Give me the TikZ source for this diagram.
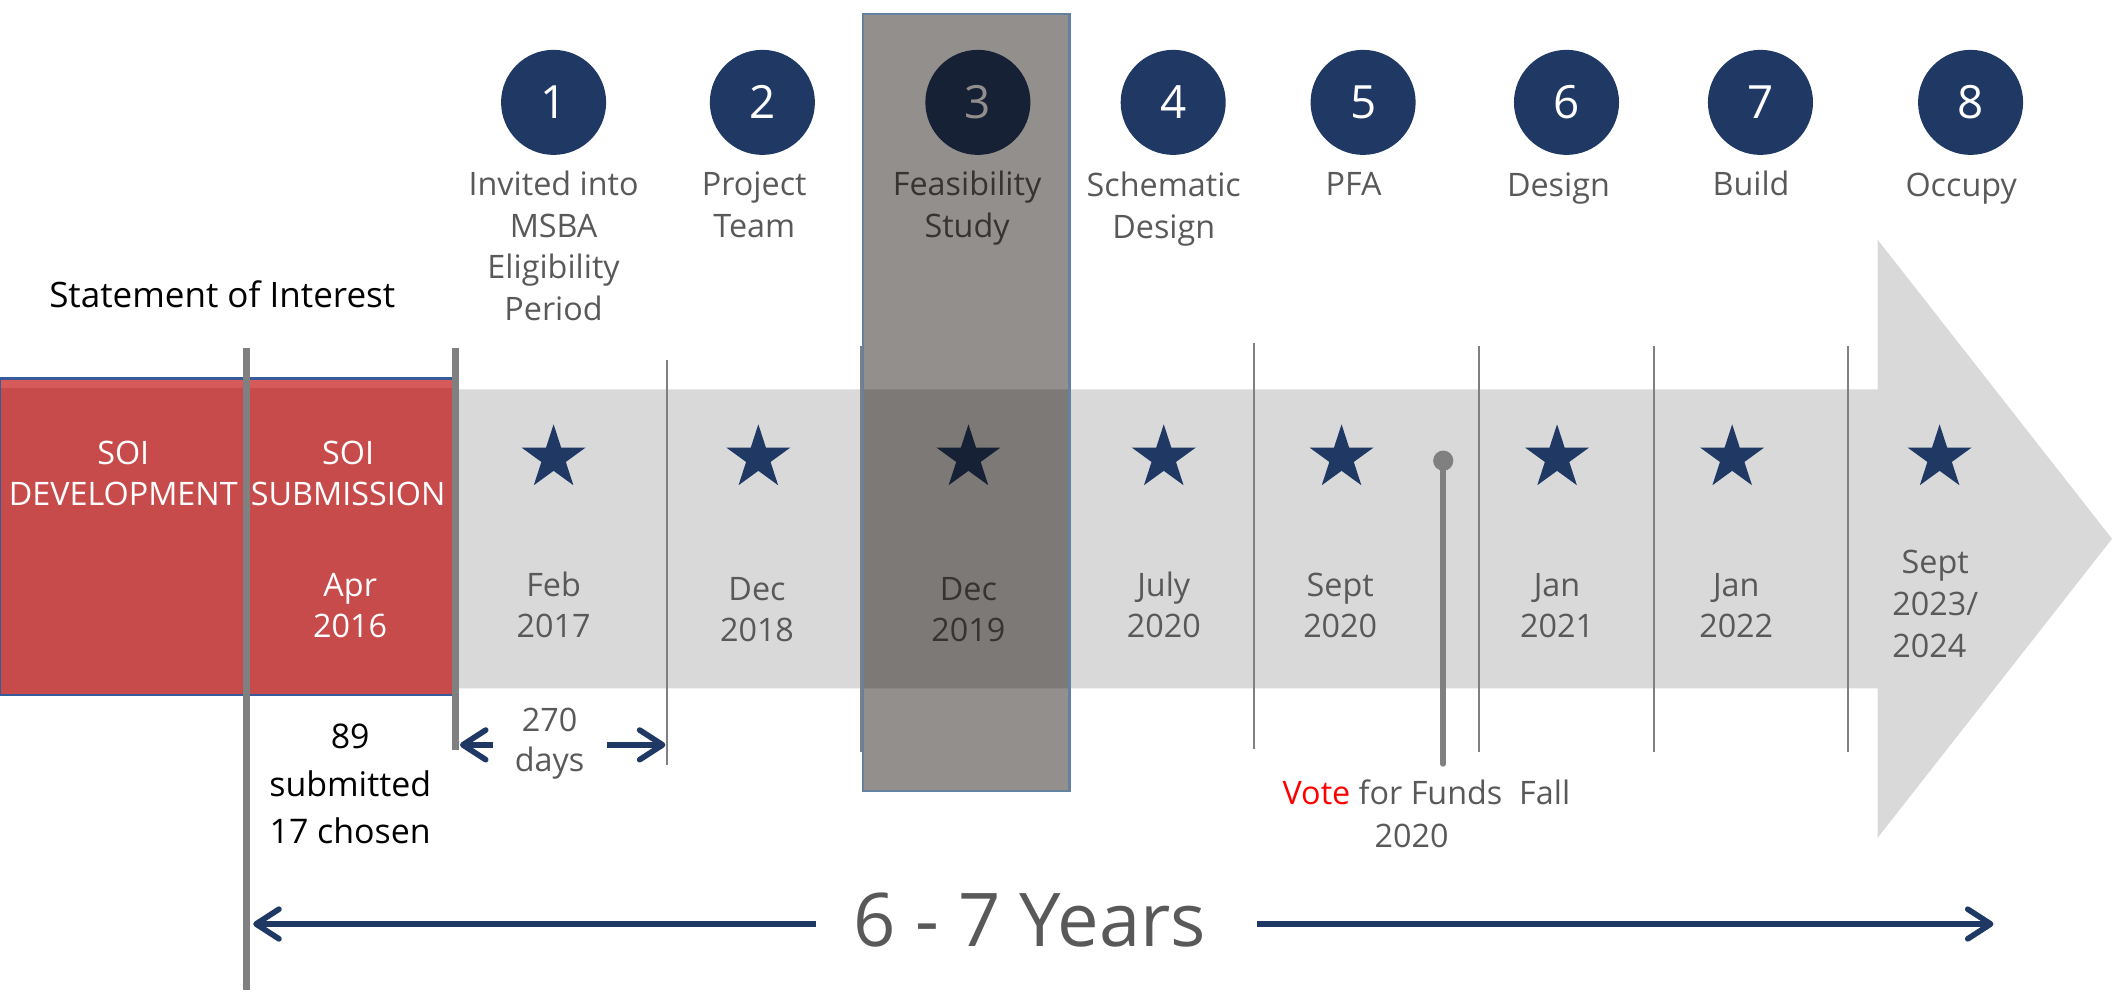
\documentclass[tikz,border=0pt]{standalone}
\usepackage{fontspec}
\setmainfont{Open Sans}
\usepackage{calc}
\usetikzlibrary{shapes.geometric,arrows.meta}
\definecolor{navy}{RGB}{31,56,100}
\definecolor{labgray}{RGB}{89,89,89}
\definecolor{soired}{RGB}{200,75,76}
\definecolor{soilight}{RGB}{214,90,90}
\definecolor{soiblue}{RGB}{55,90,155}
\definecolor{bandgray}{RGB}{217,217,217}
\definecolor{linegray}{RGB}{128,128,128}
\definecolor{hlfill}{RGB}{13,6,0}
\definecolor{hlborder}{RGB}{100,130,160}
\definecolor{votered}{RGB}{255,0,0}
\begin{document}
\begin{tikzpicture}[x=0.5pt,y=-0.5pt,
  stepcirc/.style={circle,fill=navy,text=white,minimum size=39pt,inner sep=0pt,font=\fontsize{17}{17}\selectfont},
  steplabel/.style={anchor=base,align=center,text=labgray,inner sep=0pt,font=\fontsize{12}{15.5}\selectfont},
  datelabel/.style={anchor=base,align=center,text=labgray,inner sep=0pt,font=\fontsize{12}{15}\selectfont},
  soitext/.style={anchor=base,align=center,text=white,inner sep=0pt,font=\fontsize{12}{15.5}\selectfont},
  blacktext/.style={anchor=base,align=center,text=black,inner sep=0pt,font=\fontsize{12.6}{17.5}\selectfont},
  mstar/.style={star,star points=5,star point ratio=2.618,fill=navy,draw=none,minimum size=25pt,inner sep=0pt},
  thickline/.style={draw=linegray,line width=2.5pt},
  thinline/.style={draw=linegray,line width=0.6pt},
  navyarrow/.style={draw=navy,line width=2.1pt,-{Straight Barb[length=8.5pt,width=11pt,round]}},
]
\useasboundingbox (0,0) rectangle (1568,740);
% big grey arrow band
\fill[bandgray] (330,289) -- (1394,289) -- (1394,178) -- (1568,400) -- (1394,622) -- (1394,511) -- (330,511) -- cycle;
% SOI red block
\fill[soired] (0,281) rectangle (338,516);
\fill[soilight] (0,282) rectangle (338,288);
\draw[soiblue,line width=0.9pt] (338,281) -- (0,281) -- (0,516) -- (338,516);
% separators
\foreach \x/\a/\b in {495/267/568, 639/257/558, 931/255/556, 1098/257/558, 1228/257/558, 1372/257/558}
  \draw[thinline] (\x,\a) -- (\x,\b);
% thick lines
\draw[thickline] (183,258) -- (183,735);
\draw[thickline] (338,258) -- (338,557);
% step circles
\node[stepcirc] (c1) at (411,76) {1};
\node[stepcirc] (c2) at (566,76) {2};
\node[stepcirc] (c3) at (726,76) {3};
\node[stepcirc] (c4) at (871,76) {4};
\node[stepcirc] (c5) at (1012,76) {5};
\node[stepcirc] (c6) at (1163,76) {6};
\node[stepcirc] (c7) at (1307,76) {7};
\node[stepcirc] (c8) at (1463,76) {8};
% step labels (base = last line)
\node[steplabel] (l1) at (411,238) {Invited into\\MSBA\\Eligibility\\Period};
\node[steplabel] (l2) at (560,176) {Project\\Team};
\node[steplabel] (l3) at (718,176) {Feasibility\\Study};
\node[steplabel] (l4) at (864,177) {Schematic\\Design};
\node[steplabel] (l5) at (1005,145) {PFA};
\node[steplabel] (l6) at (1157,146) {Design};
\node[steplabel] (l7) at (1300,145) {Build};
\node[steplabel] (l8) at (1456,146) {Occupy};
% stars
\foreach \n/\x in {1/411,2/563,3/719,4/864,5/996,6/1156,7/1286,8/1440}
  \node[mstar] (s\n) at (\x,340) {};
% dates
\node[datelabel] (d1) at (411,473) {Feb\\2017};
\node[datelabel] (d2) at (562,476) {Dec\\2018};
\node[datelabel] (d3) at (719,476) {Dec\\2019};
\node[datelabel] (d4) at (864,473) {July\\2020};
\node[datelabel] (d5) at (995,473) {Sept\\2020};
\node[datelabel] (d6) at (1156,473) {Jan\\2021};
\node[datelabel] (d7) at (1289,473) {Jan\\2022};
\node[datelabel,anchor=base west,align=left,font=\fontsize{12}{15.5}\selectfont] (d8) at (1404.5,488) {\makebox[\widthof{2023/}]{Sept}\\2023/\\2024};
% SOI texts
\node[soitext] (soidev) at (91.5,375.5) {SOI\\DEVELOPMENT};
\node[soitext] (soisub) at (258.5,375.5) {SOI\\SUBMISSION};
\node[soitext,font=\fontsize{12}{15}\selectfont] (soidate) at (260,473) {Apr\\2016};
\node[blacktext,font=\fontsize{13}{16}\selectfont] (soi) at (165,228) {Statement of Interest};
\node[blacktext] (count) at (260,626) {89\\submitted\\17 chosen};
% 270 days
\node[datelabel] (days) at (408,573) {270\\days};
\coordinate (dl1) at (366,553); \coordinate (dl2) at (341.5,553);
\coordinate (dr1) at (451,553); \coordinate (dr2) at (494,553);
\draw[navyarrow] (dl1) -- (dl2);
\draw[navyarrow] (dr1) -- (dr2);
% vote pin
\node[circle,fill=linegray,minimum size=7.5pt,inner sep=0pt] (pin) at (1071.5,342) {};
\coordinate (pinfoot) at (1071.5,567);
\draw[linegray,line width=2.2pt,line cap=round] (pin.center) -- (pinfoot);
\node[datelabel,font=\fontsize{12}{16}\selectfont] (vote) at (1059,629) {\textcolor{votered}{Vote} for Funds\ \ Fall\\2020\rule{11pt}{0pt}};
% years
\node[anchor=base,inner sep=0pt,text=labgray,font=\fontsize{27.5}{30}\selectfont] (yrs) at (764.5,702.6) {6 - 7 Years};
\coordinate (yl1) at (606,686); \coordinate (yl2) at (188,686);
\coordinate (yr1) at (933,686); \coordinate (yr2) at (1480,686);
\draw[navyarrow] (yl1) -- (yl2);
\draw[navyarrow] (yr1) -- (yr2);
% feasibility highlight
\fill[hlfill,fill opacity=0.45] (641,10.5) rectangle (794,587);
\draw[hlborder,line width=0.8pt] (641,10.5) rectangle (794,587);
\end{tikzpicture}
\end{document}
